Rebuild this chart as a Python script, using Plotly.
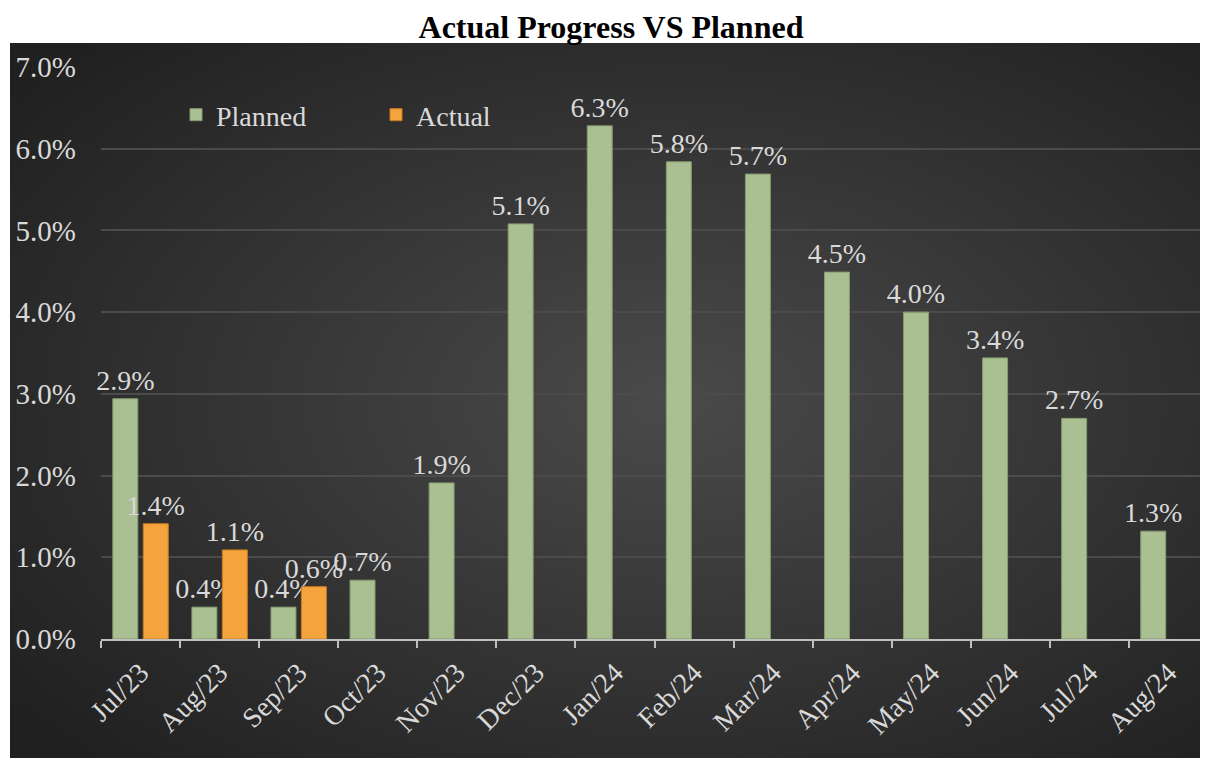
import base64
import plotly.graph_objects as go

# ---- data ----
months = ["Jul/23", "Aug/23", "Sep/23", "Oct/23", "Nov/23", "Dec/23", "Jan/24",
          "Feb/24", "Mar/24", "Apr/24", "May/24", "Jun/24", "Jul/24", "Aug/24"]
planned = [0.0294, 0.0039, 0.0039, 0.0072, 0.0191, 0.0508, 0.0628,
           0.0584, 0.0569, 0.0449, 0.0400, 0.0344, 0.0270, 0.0132]
actual = [0.0141, 0.0109, 0.0064, None, None, None, None,
          None, None, None, None, None, None, None]

# ---- geometry (page has an 8px body margin) ----
W, H = 1200, 750
ML, MR, MT, MB = 93, 0, 59, 119
PW, PH = W - ML - MR, H - MT - MB
PANEL = (2, 35, 1200, 750)  # left, top, right, bottom in figure px

FONT = "Liberation Serif"
TXT = "#d9d9d9"

svg = (
    "<svg xmlns='http://www.w3.org/2000/svg' width='1198' height='715' preserveAspectRatio='none'>"
    "<defs><radialGradient id='g' cx='55%' cy='50%' r='70%'>"
    "<stop offset='0' stop-color='#4a4a4a'/><stop offset='1' stop-color='#202020'/>"
    "</radialGradient></defs><rect width='100%' height='100%' fill='url(#g)'/></svg>"
)
bg_src = "data:image/svg+xml;base64," + base64.b64encode(svg.encode()).decode()

fig = go.Figure()
fig.add_trace(go.Bar(
    name="Planned", x=months, y=planned,
    marker=dict(color="#aabf92", line=dict(color="#869c6e", width=1)),
    texttemplate="%{y:.1%}", textposition="outside", constraintext="none",
    cliponaxis=False, textfont=dict(family=FONT, size=28, color=TXT),
))
fig.add_trace(go.Bar(
    name="Actual", x=months, y=actual,
    marker=dict(color="#f5a33c", line=dict(color="#c97d22", width=1)),
    texttemplate="%{y:.1%}", textposition="outside", constraintext="none",
    cliponaxis=False, textfont=dict(family=FONT, size=28, color=TXT),
))

fig.update_layout(
    width=W, height=H,
    margin=dict(l=ML, r=MR, t=MT, b=MB),
    paper_bgcolor="white", plot_bgcolor="rgba(0,0,0,0)",
    barmode="group", bargap=0.23, bargroupgap=0.18,
    font=dict(family=FONT, size=28, color=TXT),
    title=dict(text="<b>Actual Progress VS Planned</b>", x=603 / W, xanchor="center",
               y=1 - 19 / H, yanchor="middle", yref="container",
               font=dict(family=FONT, size=32, color="black")),
    legend=dict(orientation="h", x=75 / PW, xanchor="left",
                y=(H - MB - 107) / PH, yanchor="middle",
                entrywidth=155, entrywidthmode="pixels",
                bgcolor="rgba(0,0,0,0)", font=dict(family=FONT, size=28, color=TXT)),
    images=[dict(source=bg_src, xref="paper", yref="paper",
                 x=(PANEL[0] - ML) / PW, y=(H - MB - PANEL[1]) / PH,
                 sizex=(PANEL[2] - PANEL[0]) / PW, sizey=(PANEL[3] - PANEL[1]) / PH,
                 xanchor="left", yanchor="top", sizing="stretch", layer="below")],
)
fig.update_yaxes(range=[0, 0.07], dtick=0.01, tickformat=".1%",
                 gridcolor="#4b4b4b", gridwidth=1.5, zeroline=False, showline=False,
                 ticklabelstandoff=24, automargin=False,
                 tickfont=dict(family=FONT, size=29, color=TXT))
fig.update_xaxes(showline=True, linecolor="#bfbfbf", linewidth=2,
                 ticks="outside", tickson="boundaries", ticklen=7, tickwidth=2,
                 tickcolor="#bfbfbf", tickangle=-45, automargin=False,
                 ticklabelstandoff=4,
                 tickfont=dict(family=FONT, size=28, color=TXT))

fig.write_html("out.html")
